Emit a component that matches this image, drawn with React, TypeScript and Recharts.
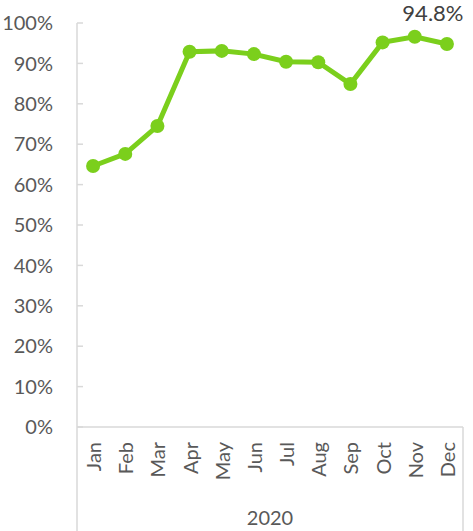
import React from 'react';
import { LineChart, Line, XAxis, YAxis, LabelList, usePlotArea } from 'recharts';

const months = ['Jan', 'Feb', 'Mar', 'Apr', 'May', 'Jun', 'Jul', 'Aug', 'Sep', 'Oct', 'Nov', 'Dec'];
const rates = [0.646, 0.676, 0.745, 0.929, 0.931, 0.923, 0.904, 0.903, 0.849, 0.952, 0.966, 0.948];
const yTicks = [0, 0.1, 0.2, 0.3, 0.4, 0.5, 0.6, 0.7, 0.8, 0.9, 1];
const yearLabel = '2020';

const data = months.map((month, i) => ({ month, rate: rates[i] }));

const W = 473;
const H = 531;
const GREEN = '#7BCF1C';
const GRID = '#d9d9d9';
const TEXT = '#595959';
const FONT = 'Lato, "Open Sans", sans-serif';

const pct = (v: number) => `${Math.round(v * 100)}%`;

function MonthTick({ x, y, payload }: any) {
  return (
    <text
      x={x}
      y={y}
      transform={`rotate(-90, ${x}, ${y})`}
      textAnchor="end"
      dominantBaseline="central"
      fontSize={20}
      fontFamily={FONT}
      fill={TEXT}
    >
      {payload.value}
    </text>
  );
}

// year group under the month labels, with its side borders
function YearGroup() {
  const area = usePlotArea();
  if (!area) return null;
  const base = area.y + area.height;
  const left = area.x;
  const right = area.x + area.width;
  return (
    <g>
      <line x1={left} x2={left} y1={base} y2={H} stroke={GRID} strokeWidth={1.5} />
      <line x1={right} x2={right} y1={base} y2={H} stroke={GRID} strokeWidth={1.5} />
      <text x={(left + right) / 2} y={base + 90} textAnchor="middle" dominantBaseline="central"
        fontSize={20} fontFamily={FONT} fill={TEXT}>
        {yearLabel}
      </text>
    </g>
  );
}

function LastLabel({ x, y, value, index }: any) {
  if (index !== rates.length - 1) return null;
  return (
    <text x={x - 14} y={y - 23} textAnchor="middle" fontSize={22} fontFamily={FONT} fill="#404040">
      {`${(value * 100).toFixed(1)}%`}
    </text>
  );
}

export default function App() {
  return (
    <div style={{ position: 'absolute', left: 0, top: 0, background: '#fff' }}>
      <LineChart width={W} height={H} data={data} margin={{ top: 23, right: 10, left: 0, bottom: 0 }}>
        <XAxis
          dataKey="month"
          scale="band"
          height={104}
          stroke={GRID}
          strokeWidth={1.5}
          tickLine={false}
          tickSize={0}
          tickMargin={15}
          interval={0}
          tick={<MonthTick />}
        />
        <YAxis
          width={77}
          domain={[0, 1]}
          ticks={yTicks}
          tickFormatter={pct}
          stroke={GRID}
          strokeWidth={1.5}
          tickSize={-6}
          tickMargin={30}
          tick={{ fontSize: 20, fontFamily: FONT, fill: TEXT }}
        />
        <Line
          type="linear"
          dataKey="rate"
          stroke={GREEN}
          strokeWidth={5}
          dot={{ r: 7, fill: GREEN, stroke: 'none' }}
          isAnimationActive={false}
        >
          <LabelList dataKey="rate" content={<LastLabel />} />
        </Line>
        <YearGroup />
      </LineChart>
    </div>
  );
}
